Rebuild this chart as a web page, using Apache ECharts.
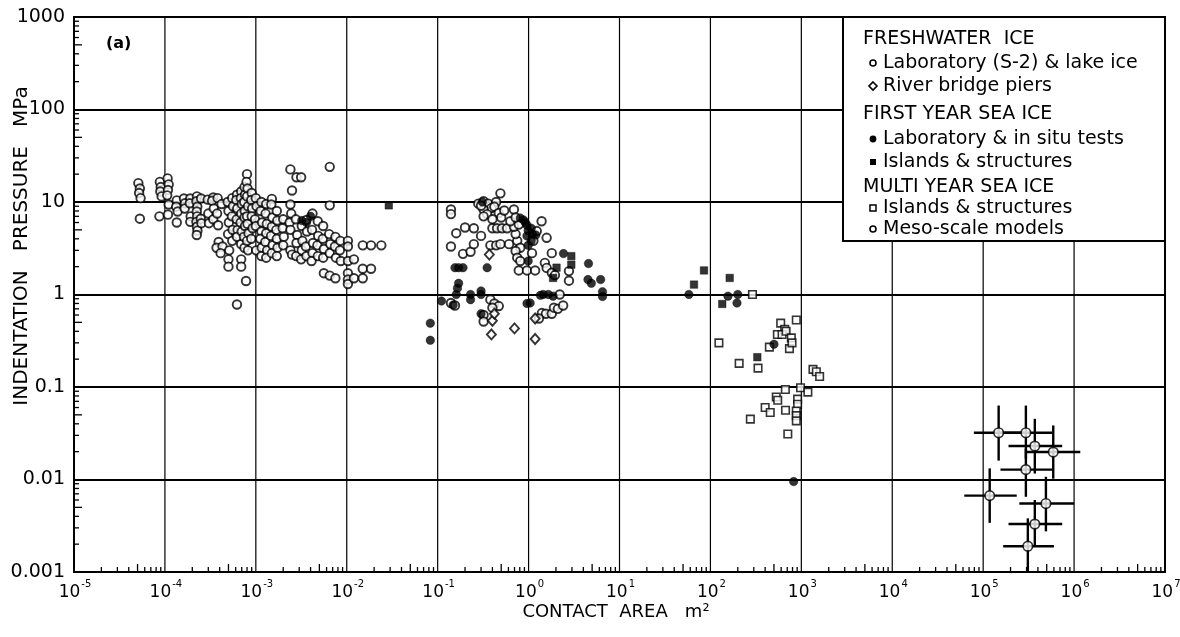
<!DOCTYPE html>
<html>
<head>
<meta charset="utf-8">
<title>Indentation pressure vs contact area</title>
<script src="https://cdn.jsdelivr.net/npm/echarts@6/dist/echarts.min.js"></script>
<style>
  html, body { margin: 0; padding: 0; background: #fff; }
  #chart { width: 1180px; height: 637px; }
</style>
</head>
<body>
<div id="chart"></div>
<script>
// ---- data: [contact area m², indentation pressure MPa] ----

const xTickExponents = [-5, -4, -3, -2, -1, 0, 1, 2, 3, 4, 5, 6, 7];
const yTickLabels = ['0.001', '0.01', '0.1', '1', '10', '100', '1000'];

// Freshwater ice: laboratory (S-2) & lake ice
const freshLab = [
  [5.1e-5,16],[5.3e-5,14],[5.2e-5,12.5],[5.4e-5,11],[5.3e-5,6.6],
  [8.8e-5,16.5],[9.0e-5,14.5],[8.9e-5,13],[9.2e-5,11.5],[8.7e-5,7.0],
  [1.07e-4,18],[1.1e-4,15.5],[1.08e-4,13.5],[1.06e-4,11.8],[1.1e-4,9.4],[1.08e-4,7.3],
  [1.35e-4,10.4],[1.33e-4,8.9],[1.38e-4,7.9],[1.35e-4,6.0],
  [1.62e-4,10.9],[1.66e-4,9.7],[1.65e-4,8.5],
  [1.9e-4,10.9],[1.88e-4,9.7],[1.92e-4,7.0],[1.9e-4,6.1],
  [2.25e-4,11.5],[2.22e-4,10.2],[2.27e-4,8.9],[2.24e-4,7.9],[2.26e-4,7.0],[2.22e-4,6.1],[2.25e-4,5.4],[2.28e-4,4.9],[2.24e-4,4.4],
  [2.5e-4,10.9],[2.48e-4,6.6],[2.52e-4,5.9],
  [2.95e-4,10.6],[3.0e-4,7.5],[3.05e-4,5.9],
  [3.4e-4,11.2],[3.3e-4,10.3],[3.45e-4,8.5],[3.4e-4,6.5],
  [3.8e-4,11],[3.75e-4,7.5],[3.85e-4,5.6],[3.9e-4,3.7],[3.7e-4,3.2],
  [4.2e-4,9.5],[4.3e-4,3.3],[4.1e-4,2.8],
  [4.9e-4,10],[5.0e-4,8],[5.05e-4,6],[4.95e-4,4.5],[5.1e-4,3.0],[5.0e-4,2.4],[5.0e-4,2.0],
  [5.5e-4,11],[5.6e-4,9],[5.45e-4,7],[5.55e-4,5],[5.5e-4,3.8],
  [6.2e-4,12],[6.1e-4,10.5],[6.25e-4,8.5],[6.15e-4,6.5],[6.3e-4,5],[6.2e-4,4.2],[6.2e-4,0.78],
  [6.9e-4,13],[6.85e-4,11],[7.0e-4,9.5],[6.9e-4,7.5],[6.8e-4,6],[7.0e-4,4.8],[6.9e-4,3.5],[6.9e-4,2.4],[6.9e-4,2.0],
  [7.5e-4,14.5],[7.6e-4,12],[7.45e-4,10],[7.55e-4,8],[7.5e-4,6.8],[7.6e-4,5.5],[7.4e-4,4.2],[7.5e-4,3.2],
  [8.0e-4,20],[7.9e-4,16.5],[8.1e-4,14],[8.0e-4,11.5],[8.2e-4,9],[8.0e-4,7],[8.1e-4,5.8],[8.3e-4,4.6],[8.0e-4,3.8],[8.2e-4,3.0],[7.8e-4,1.4],
  [9.0e-4,12.5],[8.9e-4,10.5],[9.1e-4,8.5],[9.0e-4,7],[9.2e-4,5.2],[8.9e-4,4.0],
  [1.0e-3,11],[1.02e-3,9],[0.98e-3,6.5],[1.0e-3,5.5],[1.01e-3,3.0],
  [1.15e-3,10],[1.13e-3,8],[1.17e-3,6],[1.15e-3,4.8],[1.12e-3,4.0],[1.16e-3,3.2],[1.15e-3,2.6],
  [1.3e-3,9.5],[1.28e-3,7.5],[1.32e-3,5.8],[1.3e-3,4.6],[1.27e-3,3.7],[1.33e-3,3.0],[1.3e-3,2.5],
  [1.5e-3,10.8],[1.48e-3,9.4],[1.52e-3,6.8],[1.5e-3,5.4],[1.47e-3,4.3],[1.53e-3,3.4],[1.5e-3,2.8],
  [1.7e-3,8],[1.72e-3,6.3],[1.68e-3,5],[1.7e-3,4],[1.73e-3,3.2],[1.7e-3,2.6],
  [2.0e-3,6.5],[1.97e-3,5.2],[2.03e-3,4.2],[2.0e-3,3.4],
  [2.4e-3,22.5],[2.5e-3,13.3],[2.4e-3,9.4],[2.45e-3,7.5],[2.35e-3,6.0],[2.4e-3,5.0],[2.4e-3,3.0],[2.5e-3,2.7],
  [2.8e-3,18.5],[2.75e-3,6.5],[2.85e-3,4.4],[2.8e-3,3.6],[2.78e-3,2.6],
  [3.15e-3,18.5],[3.2e-3,5.5],[3.25e-3,3.8],[3.2e-3,3.0],[3.15e-3,2.4],
  [3.6e-3,6.4],[3.65e-3,4.8],[3.55e-3,3.3],[3.6e-3,2.6],
  [4.2e-3,7.5],[4.15e-3,5.0],[4.25e-3,3.6],[4.2e-3,2.8],[4.1e-3,2.3],
  [4.8e-3,6.2],[4.85e-3,4.3],[4.75e-3,3.4],[4.8e-3,2.6],
  [5.5e-3,5.5],[5.45e-3,4.0],[5.6e-3,3.1],[5.5e-3,2.5],[5.6e-3,1.7],
  [6.5e-3,24],[6.5e-3,9.2],[6.4e-3,4.5],[6.6e-3,3.5],[6.5e-3,2.8],[6.5e-3,1.6],
  [7.5e-3,4.2],[7.4e-3,3.3],[7.6e-3,2.5],[7.5e-3,1.5],
  [8.5e-3,3.8],[8.4e-3,3.0],[8.6e-3,2.3],
  [1.03e-2,3.8],[1.03e-2,3.3],[1.03e-2,2.3],[1.03e-2,1.7],[1.03e-2,1.45],[1.03e-2,1.3],
  [1.2e-2,2.4],[1.2e-2,1.5],
  [1.5e-2,3.4],[1.5e-2,1.9],[1.5e-2,1.5],
  [1.85e-2,3.4],[1.85e-2,1.9],
  [2.4e-2,3.4],
  [0.49,12.4],[0.28,9.6],[0.32,10.2],[0.36,9.6],[0.44,10],[0.39,8.6],[0.32,8.3],[0.35,7.4],
  [0.30,9.1],[0.42,8.9],[0.47,7.6],[0.50,6.8],
  [0.14,8.3],[0.14,7.4],[0.32,7.0],[0.40,6.5],[0.54,8.1],[0.69,8.3],
  [0.40,5.2],[0.45,5.2],[0.51,5.2],[0.58,5.2],
  [0.16,4.6],[0.20,5.3],[0.25,5.2],[0.30,4.3],
  [0.14,3.3],[0.19,2.75],[0.23,2.9],[0.25,3.5],
  [0.38,3.4],[0.44,3.4],[0.49,3.5],[0.61,3.5],
  [0.75,3.8],[0.72,4.5],[0.69,5.4],[0.78,5.7],[0.63,6.2],[0.72,6.8],
  [0.81,3.2],[0.72,2.95],[0.75,2.5],[0.81,2.3],
  [0.78,1.82],[0.96,1.82],[1.18,1.82],
  [1.09,2.8],[1.13,3.8],[1.23,4.85],[1.39,6.2],[1.58,4.1],
  [1.8,2.8],[1.51,2.2],[1.58,1.94],[1.8,1.72],[1.95,1.62],
  [2.78,1.79],[2.78,1.41],[2.2,1.0],
  [0.14,0.81],[0.155,0.76],[0.38,0.88],[0.42,0.80],[0.47,0.75],[0.40,0.72],[0.32,0.60],[0.32,0.51],
  [1.4,0.63],[1.55,0.62],[1.8,0.62],[1.9,0.72],[2.1,0.70],[2.4,0.76],[1.3,0.55]
];

// Freshwater ice: river bridge piers
const riverPiers = [
  [0.40,0.52],[0.39,0.37],[0.70,0.43],[1.18,0.55],[1.18,0.33],[0.37,2.7],[0.42,0.62]
];

// First year sea ice: laboratory & in situ tests
const firstYearLab = [
  [3.2e-3,6.3],[3.6e-3,6.0],[4.0e-3,7.0],
  [0.083,0.49],[0.083,0.32],[0.11,0.85],[0.148,0.77],
  [0.155,1.95],[0.17,1.95],[0.19,1.95],[0.16,1.0],[0.17,1.32],[0.165,1.17],
  [0.23,1.0],[0.23,0.88],[0.30,1.0],[0.30,1.09],[0.30,0.62],[0.35,1.95],[0.31,10],
  [0.81,6.7],[0.88,6.4],[0.92,6.0],[0.96,5.6],[1.07,5.2],[0.99,4.9],[1.10,4.5],[1.20,4.4],[0.96,4.3],[1.07,3.8],[0.99,3.4],[0.99,2.3],
  [1.04,0.81],[0.96,0.80],
  [1.35,0.98],[1.45,1.0],[1.65,1.0],[1.86,0.96],
  [2.42,2.77],[4.56,2.16],[4.5,1.45],[4.9,1.32],[6.2,1.45],[6.5,1.07],[6.5,0.95],
  [58,1.0],[156,0.96],[200,1.0],[196,0.81],[500,0.29],[824,0.0095]
];

// First year sea ice: islands & structures
const firstYearIslands = [
  [2.9e-2,9.2],[2.95,2.6],[2.95,2.1],[2.03,1.95],[1.86,1.51],
  [85,1.82],[66,1.28],[163,1.51],[135,0.79],[328,0.21]
];

// Multi year sea ice: islands & structures
const multiYearIslands = [
  [290,1.0],[124,0.30],[207,0.18],[334,0.16],[593,0.49],[656,0.42],[545,0.37],[614,0.37],
  [680,0.40],[776,0.34],[445,0.27],[740,0.26],[790,0.30],[880,0.53],
  [1343,0.155],[1462,0.146],[1590,0.13],[667,0.094],[980,0.098],[1180,0.088],
  [910,0.074],[910,0.065],[880,0.055],[880,0.049],[880,0.043],
  [530,0.078],[550,0.072],[400,0.060],[455,0.053],[670,0.056],[275,0.045],[710,0.031]
];

// Multi year sea ice: meso-scale models  [area, pressure]
const mesoCenters = [
  [1.48e5,0.032],[2.95e5,0.032],[3.7e5,0.023],[5.9e5,0.0198],[2.95e5,0.0128],
  [1.18e5,0.0067],[4.9e5,0.0055],[3.7e5,0.0033],[3.1e5,0.0019]
];
// area range [low, high]
const mesoAreaRange = [
  [7.9e4,2.76e5],[1.55e5,5.8e5],[1.9e5,7.4e5],[3.0e5,1.17e6],[1.55e5,5.8e5],
  [6.2e4,2.34e5],[2.5e5,1.0e6],[1.9e5,7.4e5],[1.66e5,6.0e5]
];
// pressure range [low, high]
const mesoPressureRange = [
  [0.016,0.063],[0.0168,0.063],[0.0116,0.0453],[0.0102,0.0384],[0.0065,0.0215],
  [0.0034,0.0132],[0.00275,0.0107],[0.0019,0.006],[0.001,0.0038]
];

const legendRows = [
  { text: 'FRESHWATER  ICE', heading: true },
  { text: 'Laboratory (S-2) & lake ice', mark: 'openCircle' },
  { text: 'River bridge piers', mark: 'openDiamond' },
  { text: 'FIRST YEAR SEA ICE', heading: true },
  { text: 'Laboratory & in situ tests', mark: 'filledCircle' },
  { text: 'Islands & structures', mark: 'filledSquare' },
  { text: 'MULTI YEAR SEA ICE', heading: true },
  { text: 'Islands & structures', mark: 'openSquare' },
  { text: 'Meso-scale models', mark: 'openCircle' }
];

// ---- chart ----
const FONT = '"DejaVu Sans", "Liberation Sans", Arial, sans-serif';
const X_MIN = 1e-5, X_MAX = 1e7, Y_MIN = 1e-3, Y_MAX = 1e3;

// log minor tick positions (2..9 × 10^n) along each axis
const xMinor = [], yMinor = [];
for (let e = -5; e < 7; e++) for (let m = 2; m <= 9; m++) xMinor.push([m * Math.pow(10, e), m]);
for (let e = -3; e < 3; e++) for (let m = 2; m <= 9; m++) yMinor.push([m * Math.pow(10, e), m]);

const mesoData = mesoCenters.map((c, i) => [
  c[0], c[1], mesoAreaRange[i][0], mesoAreaRange[i][1], mesoPressureRange[i][0], mesoPressureRange[i][1]
]);

const openStyle = { color: '#fff', borderColor: '#000', borderWidth: 1.9 };
const filledStyle = { color: '#000', borderColor: '#000', borderWidth: 0.5 };

const xLabelRich = {
  b: { fontSize: 17, fontFamily: FONT, fill: '#000', lineHeight: 22, verticalAlign: 'bottom' },
  s: { fontSize: 10, fontFamily: FONT, fill: '#000', lineHeight: 22, verticalAlign: 'top', padding: [0, 0, 0, 1] }
};

function legendGraphics() {
  const left = 843, top = 17, w = 322, h = 224;
  const els = [{
    type: 'rect', shape: { x: left, y: top, width: w, height: h },
    style: { fill: '#fff', stroke: '#000', lineWidth: 2 }, z: 100
  }];
  const rowY = [39, 63, 86, 114, 139, 162, 187, 208, 229];
  legendRows.forEach((r, i) => {
    const y = rowY[i];
    if (r.heading) {
      els.push({ type: 'text', x: 863, y: y, z: 101,
        style: { text: r.text, font: '19px ' + FONT, fill: '#000', textVerticalAlign: 'middle', textAlign: 'left' } });
      return;
    }
    const cx = 873;
    let mk;
    if (r.mark === 'openCircle') mk = { type: 'circle', shape: { cx, cy: y, r: 3 }, style: { fill: '#fff', stroke: '#000', lineWidth: 1.6 } };
    else if (r.mark === 'filledCircle') mk = { type: 'circle', shape: { cx, cy: y, r: 3.4 }, style: { fill: '#000' } };
    else if (r.mark === 'openDiamond') mk = { type: 'polygon', shape: { points: [[cx, y - 4], [cx + 4, y], [cx, y + 4], [cx - 4, y]] }, style: { fill: '#fff', stroke: '#000', lineWidth: 1.6 } };
    else if (r.mark === 'filledSquare') mk = { type: 'rect', shape: { x: cx - 3, y: y - 3, width: 6, height: 6 }, style: { fill: '#000' } };
    else mk = { type: 'rect', shape: { x: cx - 3, y: y - 3, width: 6, height: 6 }, style: { fill: '#fff', stroke: '#000', lineWidth: 1.5 } };
    mk.z = 101;
    els.push(mk);
    els.push({ type: 'text', x: 883, y: y, z: 101,
      style: { text: r.text, font: '19px ' + FONT, fill: '#000', textVerticalAlign: 'middle', textAlign: 'left' } });
  });
  return els;
}

const chart = echarts.init(document.getElementById('chart'), null, { renderer: 'canvas' });

chart.setOption({
  animation: false,
  backgroundColor: '#fff',
  textStyle: { fontFamily: FONT, color: '#000' },
  grid: {
    left: 74, right: 15, top: 17, bottom: 65,
    containLabel: false, outerBoundsMode: 'none',
    show: true, borderColor: '#000', borderWidth: 2, backgroundColor: 'transparent'
  },
  xAxis: {
    type: 'log', logBase: 10, min: X_MIN, max: X_MAX,
    axisLine: { show: true, lineStyle: { color: '#000', width: 2 } },
    axisTick: { show: false },
    splitLine: { show: false },
    axisLabel: { show: false }
  },
  yAxis: {
    type: 'log', logBase: 10, min: Y_MIN, max: Y_MAX, splitNumber: 6,
    axisLine: { show: true, lineStyle: { color: '#000', width: 2 } },
    axisTick: { show: false },
    splitLine: { show: true, lineStyle: { color: '#000', width: 2 } },
    axisLabel: {
      margin: 9, fontSize: 19, fontFamily: FONT, color: '#000',
      formatter: v => yTickLabels[Math.round(Math.log10(v)) + 3]
    }
  },
  graphic: [
    { type: 'text', x: 106, y: 44, style: { text: '(a)', font: 'bold 16px ' + FONT, fill: '#000', textVerticalAlign: 'middle' } },
    { type: 'text', x: 22, y: 246, rotation: Math.PI / 2,
      style: { text: 'INDENTATION   PRESSURE   MPa', font: '20px ' + FONT, fill: '#000',
        textAlign: 'center', textVerticalAlign: 'middle' } },
    { type: 'text', x: 616, y: 612,
      style: { text: 'CONTACT  AREA   m²', font: '18px ' + FONT, fill: '#000',
        textAlign: 'center', textVerticalAlign: 'middle' } }
  ].concat(legendGraphics()),
  series: [
    { // decade grid lines and labels on the area axis
      type: 'custom', silent: true, clip: false, z: 1,
      data: xTickExponents.map(e => [Math.pow(10, e), e]), encode: { x: 0, y: -1 },
      renderItem: (p, api) => {
        const v = api.value(0);
        const bot = api.coord([v, Y_MIN]);
        const top = api.coord([v, Y_MAX]);
        return { type: 'group', children: [
          { type: 'line', shape: { x1: bot[0], y1: bot[1], x2: top[0], y2: top[1] }, style: { stroke: '#000', lineWidth: 1.2 } },
          { type: 'text', x: bot[0] + 1, y: bot[1] + 7,
            style: { text: '{b|10}{s|' + api.value(1) + '}', rich: xLabelRich, align: 'center', verticalAlign: 'top' } }
        ] };
      }
    },
    { // minor ticks on the area axis
      type: 'custom', silent: true, clip: false, z: 3,
      data: xMinor, encode: { x: 0, y: -1 },
      renderItem: (p, api) => {
        const pt = api.coord([api.value(0), Y_MIN]);
        const len = api.value(1) === 5 ? 8 : 5;
        return { type: 'line', shape: { x1: pt[0], y1: pt[1], x2: pt[0], y2: pt[1] - len }, style: { stroke: '#000', lineWidth: 1.3 } };
      }
    },
    { // minor ticks on the pressure axis
      type: 'custom', silent: true, clip: false, z: 3,
      data: yMinor.map(d => [X_MIN, d[0], d[1]]), encode: { x: 0, y: 1 },
      renderItem: (p, api) => {
        const pt = api.coord([X_MIN, api.value(1)]);
        const len = api.value(2) === 5 ? 8 : 5;
        return { type: 'line', shape: { x1: pt[0], y1: pt[1], x2: pt[0] + len, y2: pt[1] }, style: { stroke: '#000', lineWidth: 1.3 } };
      }
    },
    {
      name: 'Laboratory (S-2) & lake ice', type: 'scatter', data: freshLab,
      symbol: 'circle', symbolSize: 8.5, itemStyle: openStyle, z: 5
    },
    {
      name: 'River bridge piers', type: 'scatter', data: riverPiers,
      symbol: 'diamond', symbolSize: [9, 10], itemStyle: openStyle, z: 5
    },
    {
      name: 'Laboratory & in situ tests', type: 'scatter', data: firstYearLab,
      symbol: 'circle', symbolSize: 8.5, itemStyle: filledStyle, z: 6
    },
    {
      name: 'Islands & structures (first year)', type: 'scatter', data: firstYearIslands,
      symbol: 'rect', symbolSize: 7.5, itemStyle: filledStyle, z: 6
    },
    {
      name: 'Islands & structures (multi year)', type: 'scatter', data: multiYearIslands,
      symbol: 'rect', symbolSize: 7.5, itemStyle: { color: '#fff', borderColor: '#000', borderWidth: 1.6 }, z: 5
    },
    { // meso-scale error bars
      type: 'custom', name: 'Meso-scale range', silent: true, z: 7,
      data: mesoData, encode: { x: [0, 2, 3], y: [1, 4, 5] },
      renderItem: (p, api) => {
        const c = api.coord([api.value(0), api.value(1)]);
        const xl = api.coord([api.value(2), api.value(1)]);
        const xh = api.coord([api.value(3), api.value(1)]);
        const yl = api.coord([api.value(0), api.value(4)]);
        const yh = api.coord([api.value(0), api.value(5)]);
        const st = { stroke: '#000', lineWidth: 2.4 };
        return { type: 'group', children: [
          { type: 'line', shape: { x1: xl[0], y1: c[1], x2: xh[0], y2: c[1] }, style: st },
          { type: 'line', shape: { x1: c[0], y1: yl[1], x2: c[0], y2: yh[1] }, style: st }
        ] };
      }
    },
    {
      name: 'Meso-scale models', type: 'scatter', data: mesoCenters,
      symbol: 'circle', symbolSize: 9.5, itemStyle: { color: '#fff', borderColor: '#000', borderWidth: 1.7 }, z: 8
    }
  ]
});
</script>
</body>
</html>
